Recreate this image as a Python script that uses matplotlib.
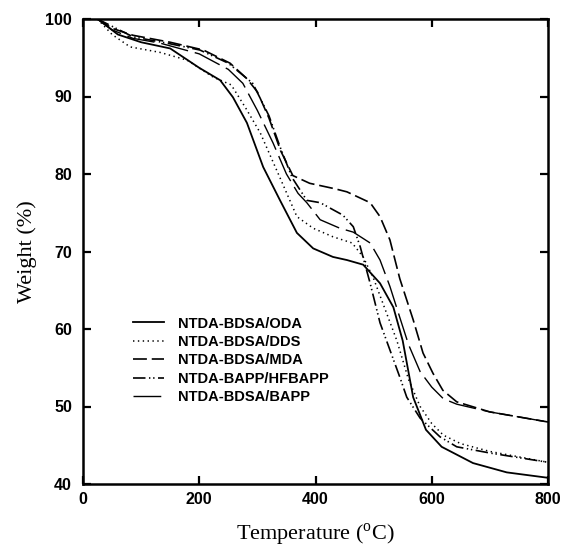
import numpy as np
import matplotlib
matplotlib.use("Agg")
import matplotlib.pyplot as plt

# TGA curves (temperature in C, weight in %)
oda_t = [25, 60, 100, 150, 200, 236, 258, 282, 310, 339, 368, 396, 430, 454, 482, 511, 534, 550, 568, 590, 617, 671, 729, 800]
oda_w = [100, 98.0, 97.0, 96.2, 93.7, 92.1, 89.9, 86.6, 80.9, 76.6, 72.4, 70.4, 69.3, 68.9, 68.3, 65.9, 62.8, 58.5, 51.2, 47.0, 44.8, 42.7, 41.5, 40.8]

dds_t = [25, 50, 81, 132, 179, 224, 255, 280, 305, 339, 368, 396, 430, 463, 482, 500, 520, 540, 560, 580, 600, 620, 650, 700, 800]
dds_w = [100, 98.0, 96.4, 95.7, 94.7, 92.5, 91.5, 88.5, 85.3, 79.5, 74.5, 73.0, 71.9, 71.1, 69.3, 66.5, 62.5, 58.5, 53.5, 50.0, 47.8, 46.3, 45.2, 44.2, 42.8]

mda_t = [25, 50, 86, 150, 207, 253, 282, 300, 320, 340, 361, 390, 433, 454, 494, 511, 528, 545, 568, 585, 602, 619, 643, 700, 800]
mda_w = [100, 98.8, 97.9, 97.0, 96.0, 94.3, 92.3, 90.6, 87.2, 83.0, 79.8, 78.8, 78.1, 77.7, 76.3, 74.5, 71.5, 66.5, 61.2, 56.9, 54.3, 52.1, 50.6, 49.3, 48.0]

hfb_t = [25, 86, 150, 201, 250, 292, 320, 339, 360, 385, 408, 447, 465, 477, 494, 511, 528, 545, 557, 580, 614, 643, 700, 800]
hfb_w = [100, 97.7, 96.8, 96.0, 94.3, 91.7, 87.5, 83.5, 79.5, 76.6, 76.3, 74.7, 73.2, 70.6, 65.9, 60.8, 57.3, 53.8, 51.2, 48.5, 46.1, 44.8, 44.0, 42.8]

bapp_t = [25, 50, 86, 132, 200, 250, 275, 300, 327, 350, 370, 385, 408, 442, 465, 494, 511, 528, 545, 560, 580, 600, 620, 643, 700, 800]
bapp_w = [100, 98.6, 97.5, 96.9, 95.5, 93.5, 91.7, 88.2, 84.0, 80.0, 77.5, 76.3, 74.1, 73.0, 72.5, 71.1, 68.9, 65.5, 61.5, 58.0, 54.5, 52.5, 51.0, 50.3, 49.3, 48.0]

labels = ["NTDA-BDSA/ODA", "NTDA-BDSA/DDS", "NTDA-BDSA/MDA", "NTDA-BAPP/HFBAPP", "NTDA-BDSA/BAPP"]

plt.rcParams["lines.scale_dashes"] = False
plt.rcParams["mathtext.fontset"] = "custom"
plt.rcParams["mathtext.rm"] = "Liberation Serif"

fig = plt.figure(figsize=(5.63, 5.51), dpi=100)
ax = fig.add_axes([83 / 563, 67 / 551, 465 / 563, 465 / 551])

ax.plot(oda_t, oda_w, color="black", lw=1.3, label=labels[0])
ax.plot(dds_t, dds_w, color="black", lw=1.1, dashes=(1, 2.5), label=labels[1])
ax.plot(mda_t, mda_w, color="black", lw=1.2, dashes=(10, 3.5), label=labels[2])
ax.plot(hfb_t, hfb_w, color="black", lw=1.2, dashes=(9, 2.5, 1, 2, 1, 2.5), label=labels[3])
ax.plot(bapp_t, bapp_w, color="black", lw=1.0, dashes=(20, 5), label=labels[4])

ax.set_xlim(0, 800)
ax.set_ylim(40, 100)
ax.set_xticks([0, 200, 400, 600, 800])
ax.set_yticks([40, 50, 60, 70, 80, 90, 100])

for s in ax.spines.values():
    s.set_linewidth(1.8)
ax.tick_params(direction="in", length=6, width=1.6, top=True, right=True,
               labelsize=11.5)
ax.tick_params(axis="y", pad=8)
ax.tick_params(axis="x", pad=6)
for lab in ax.get_xticklabels() + ax.get_yticklabels():
    lab.set_fontweight("bold")
    lab.set_family("Liberation Sans")

ax.set_xlabel(r"Temperature ($^{\rm o}$C)", family="Liberation Serif", fontsize=16, labelpad=10)
ax.set_ylabel("Weight (%)", family="Liberation Serif", fontsize=16, labelpad=6)

leg = ax.legend(loc="upper left", bbox_to_anchor=(0.1075, 0.36), frameon=False,
                borderpad=0, borderaxespad=0, handlelength=2.1, handletextpad=1.0,
                labelspacing=0.3, prop={"family": "Liberation Sans", "weight": "bold", "size": 10.5})

fig.savefig("out.png", dpi=100)
